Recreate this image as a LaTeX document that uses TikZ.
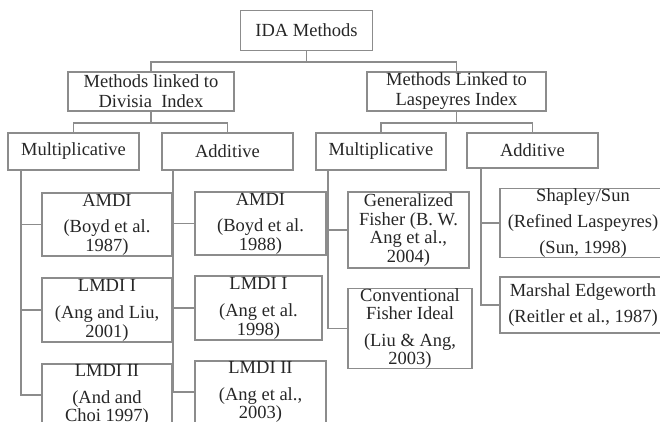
\documentclass[tikz,border=0pt]{standalone}
\usepackage{fontspec}
\setmainfont{Liberation Serif}
\definecolor{boxgray}{HTML}{8C8C8C}

\begin{document}
\begin{tikzpicture}[x=1pt,y=-1pt,
    box/.style={draw=boxgray, line width=1.6pt, inner sep=0pt, align=center,
        text=black!85, font=\fontsize{18.5}{18.5}\selectfont},
    link/.style={draw=boxgray, line width=1.6pt}]

    \useasboundingbox (0,0) rectangle (660,422);
    \clip (0,0) rectangle (660,422);

    % top levels
    \node[box, minimum width=132pt, minimum height=40pt] (ida) at (306.5,30.5) {IDA Methods};
    \node[box, minimum width=166pt, minimum height=39pt] (div) at (151,91.5) {Methods linked to\\[1.5pt]Divisia\ \ Index};
    \node[box, minimum width=179pt, minimum height=39pt] (las) at (456.5,91.5) {Methods Linked to\\[1.5pt]Laspeyres Index};
    \node[box, minimum width=131pt, minimum height=37pt] (mulD) at (73.5,151.5) {Multiplicative};
    \node[box, minimum width=131pt, minimum height=37pt] (addD) at (227.5,151.5) {Additive};
    \node[box, minimum width=130pt, minimum height=37pt] (mulL) at (381,151.5) {Multiplicative};
    \node[box, minimum width=131pt, minimum height=35pt] (addL) at (532.5,150.5) {Additive};

    % Divisia methods
    \node[box, minimum width=130pt, minimum height=63pt] (mAMDI) at (107,224.5) {AMDI\\[8pt](Boyd et al.\\1987)};
    \node[box, minimum width=130pt, minimum height=64pt] (mLMDIa) at (107,310) {LMDI I\\[9pt](Ang and Liu,\\2001)};
    \node[box, minimum width=130pt, minimum height=62pt] (mLMDIb) at (107,395) {LMDI II\\[8pt](And and\\Choi 1997)};
    \node[box, minimum width=131pt, minimum height=63pt] (aAMDI) at (260.5,223.5) {AMDI\\[8pt](Boyd et al.\\1988)};
    \node[box, minimum width=127pt, minimum height=64pt] (aLMDIa) at (258.5,308) {LMDI I\\[9pt](Ang et al.\\1998)};
    \node[box, minimum width=131pt, minimum height=62pt] (aLMDIb) at (260.5,392) {LMDI II\\[8pt](Ang et al.,\\2003)};

    % Laspeyres methods
    \node[box, minimum width=121pt, minimum height=76pt] (genF) at (408.5,230) {Generalized\\Fisher (B. W.\\Ang et al.,\\2004)};
    \node[box, minimum width=124pt, minimum height=75pt] (conF) at (410,328.5) {Conventional\\Fisher Ideal\\[8pt](Liu \& Ang,\\2003)};
    \node[box, minimum width=166pt, minimum height=62pt] (shap) at (583,223) {Shapley/Sun\\[7.5pt](Refined Laspeyres)\\[8pt](Sun, 1998)};
    \node[box, minimum width=166pt, minimum height=56pt] (marsh) at (583,305) {Marshal Edgeworth\\[7.5pt](Reitler et al., 1987)};

    % tree links
    \draw[link] (ida.south) -- ++(0,11) -| (div.north);
    \draw[link] (ida.south) -- ++(0,11) -| (las.north);
    \draw[link] (div.south) -- ++(0,11) -| (mulD.north);
    \draw[link] (div.south) -- ++(0,11) -| (addD.north);
    \draw[link] (las.south) -- ++(0,11) -| (mulL.north);
    \draw[link] (las.south) -- ++(0,11) -| (addL.north);

    \foreach \c in {mAMDI,mLMDIa,mLMDIb}
        \draw[link] ([xshift=14pt]mulD.south west) |- (\c.west);
    \foreach \c in {aAMDI,aLMDIa,aLMDIb}
        \draw[link] ([xshift=12pt]addD.south west) |- (\c.west);
    \foreach \c in {genF,conF}
        \draw[link] ([xshift=13pt]mulL.south west) |- (\c.west);
    \foreach \c in {shap,marsh}
        \draw[link] ([xshift=15pt]addL.south west) |- (\c.west);
\end{tikzpicture}
\end{document}
